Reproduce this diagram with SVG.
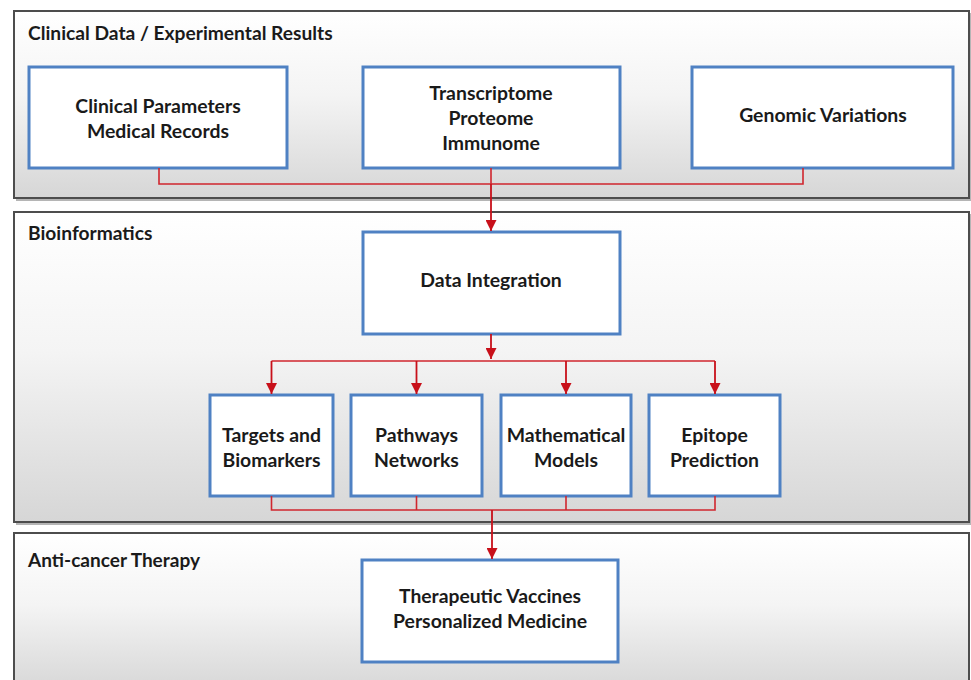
<svg xmlns="http://www.w3.org/2000/svg" width="971" height="680" viewBox="0 0 971 680">
  <defs>
    <linearGradient id="panelFill" x1="0" y1="0" x2="0" y2="1">
      <stop offset="0" stop-color="#ffffff"/>
      <stop offset="0.45" stop-color="#f4f4f4"/>
      <stop offset="1" stop-color="#d6d6d6"/>
    </linearGradient>
    <marker id="arrow" viewBox="0 0 10 10" refX="10" refY="5" markerWidth="11" markerHeight="11" markerUnits="userSpaceOnUse" orient="auto">
      <path d="M0,0 L10,5 L0,10 z" fill="#c8101a"/>
    </marker>
  </defs>
  <style>
    .panel { fill: url(#panelFill); stroke: #4d4d4d; stroke-width: 2; }
    .shadow { fill: none; stroke: #b5b5b5; stroke-width: 2; }
    .box { fill: #ffffff; stroke: #4f81c3; stroke-width: 3; }
    .title { font-family: "Lato", "Liberation Sans", sans-serif; font-weight: bold; font-size: 19.2px; fill: #1a1a1a; }
    .label { font-family: "Lato", "Liberation Sans", sans-serif; font-weight: bold; font-size: 19.4px; fill: #1a1a1a; text-anchor: middle; }
    .link { fill: none; stroke: #d0262e; stroke-width: 1.6; }
    .arrow { fill: none; stroke: #c8101a; stroke-width: 1.8; marker-end: url(#arrow); }
  </style>

  <rect width="971" height="680" fill="#ffffff"/>

  <!-- section panels -->
  <g id="panel-clinical">
    <path class="shadow" d="M16,200 H971 M971,13 V200"/>
    <rect class="panel" x="14" y="11" width="955" height="187"/>
    <text class="title" x="28" y="40">Clinical Data / Experimental Results</text>
  </g>
  <g id="panel-bioinformatics">
    <path class="shadow" d="M16,524 H971 M971,214 V524"/>
    <rect class="panel" x="14" y="212" width="955" height="310"/>
    <text class="title" x="28" y="240">Bioinformatics</text>
  </g>
  <g id="panel-therapy">
    <rect class="panel" x="14" y="533" width="955" height="160"/>
    <text class="title" x="28" y="567" textLength="172" lengthAdjust="spacingAndGlyphs">Anti-cancer Therapy</text>
  </g>

  <!-- nodes -->
  <g id="node-clinical-parameters">
    <rect class="box" x="29" y="67" width="258" height="101"/>
    <text class="label" x="158" y="113">Clinical Parameters</text>
    <text class="label" x="158" y="138">Medical Records</text>
  </g>
  <g id="node-omics">
    <rect class="box" x="363" y="67" width="257" height="101"/>
    <text class="label" x="491" y="100">Transcriptome</text>
    <text class="label" x="491" y="125">Proteome</text>
    <text class="label" x="491" y="150">Immunome</text>
  </g>
  <g id="node-genomic-variations">
    <rect class="box" x="692" y="67" width="261" height="101"/>
    <text class="label" x="823" y="122">Genomic Variations</text>
  </g>
  <g id="node-data-integration">
    <rect class="box" x="363" y="232" width="257" height="102"/>
    <text class="label" x="491" y="287">Data Integration</text>
  </g>
  <g id="node-targets">
    <rect class="box" x="210" y="395" width="123" height="101"/>
    <text class="label" x="271.5" y="442">Targets and</text>
    <text class="label" x="271.5" y="467">Biomarkers</text>
  </g>
  <g id="node-pathways">
    <rect class="box" x="351" y="395" width="131" height="101"/>
    <text class="label" x="416.5" y="442">Pathways</text>
    <text class="label" x="416.5" y="467">Networks</text>
  </g>
  <g id="node-models">
    <rect class="box" x="501" y="395" width="130" height="101"/>
    <text class="label" x="566" y="442">Mathematical</text>
    <text class="label" x="566" y="467">Models</text>
  </g>
  <g id="node-epitope">
    <rect class="box" x="649" y="395" width="131" height="101"/>
    <text class="label" x="714.5" y="442">Epitope</text>
    <text class="label" x="714.5" y="467">Prediction</text>
  </g>
  <g id="node-therapy">
    <rect class="box" x="362" y="560" width="256" height="102"/>
    <text class="label" x="490" y="603" textLength="182" lengthAdjust="spacingAndGlyphs">Therapeutic Vaccines</text>
    <text class="label" x="490" y="628" textLength="194" lengthAdjust="spacingAndGlyphs">Personalized Medicine</text>
  </g>

  <!-- connectors -->
  <g id="connectors">
    <!-- merge of the three data sources -->
    <path class="link" d="M159,168 V184 H803 V168 M491,168 V184"/>
    <path class="arrow" d="M491,184 V231"/>
    <!-- fan-out from data integration -->
    <path class="arrow" d="M491,334 V359"/>
    <path class="link" d="M271.5,361 H715"/>
    <path class="arrow" d="M271.5,361 V394"/>
    <path class="arrow" d="M416.5,361 V394"/>
    <path class="arrow" d="M566,361 V394"/>
    <path class="arrow" d="M715,361 V394"/>
    <!-- merge of the analyses into therapy -->
    <path class="link" d="M271.5,496 V510 H715 V496 M416.5,496 V510 M566,496 V510"/>
    <path class="arrow" d="M492,510 V559"/>
  </g>
</svg>
